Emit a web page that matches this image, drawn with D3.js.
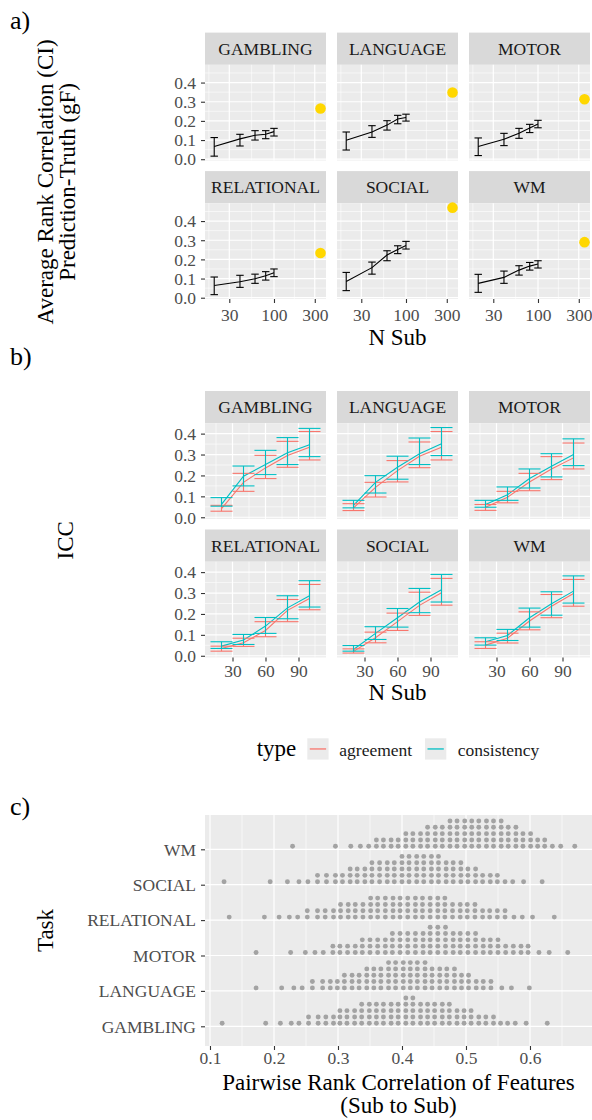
<!DOCTYPE html>
<html>
<head>
<meta charset="utf-8">
<script src="https://cdn.jsdelivr.net/npm/d3@7"></script>
<style>
  body { margin: 0; background: #fff; }
  svg { display: block; }
</style>
</head>
<body>
<svg id="fig" width="592" height="1120" font-family="Liberation Serif, DejaVu Serif, serif"></svg>
<script>
// ---------------- data ----------------
const tasks = ["GAMBLING", "LANGUAGE", "MOTOR", "RELATIONAL", "SOCIAL", "WM"];
const nSub = [20, 40, 60, 80, 100];
const nFull = 350;

// a) prediction-truth rank correlation (mean and CI) per task, by sample size
const predMean = [
  [0.066, 0.106, 0.125, 0.130, 0.144],
  [0.099, 0.142, 0.178, 0.210, 0.218],
  [0.066, 0.104, 0.135, 0.163, 0.184],
  [0.064, 0.083, 0.099, 0.115, 0.130],
  [0.085, 0.157, 0.223, 0.252, 0.273],
  [0.075, 0.106, 0.144, 0.165, 0.176]
];
const predLo = [
  [0.016, 0.069, 0.100, 0.107, 0.121],
  [0.048, 0.114, 0.152, 0.185, 0.199],
  [0.019, 0.071, 0.109, 0.139, 0.164],
  [0.016, 0.054, 0.075, 0.092, 0.110],
  [0.037, 0.123, 0.193, 0.230, 0.254],
  [0.028, 0.075, 0.118, 0.144, 0.155]
];
const predHi = [
  [0.113, 0.130, 0.149, 0.149, 0.161],
  [0.142, 0.175, 0.201, 0.229, 0.235],
  [0.111, 0.135, 0.161, 0.182, 0.203],
  [0.108, 0.117, 0.123, 0.136, 0.150],
  [0.132, 0.186, 0.245, 0.271, 0.294],
  [0.122, 0.139, 0.167, 0.184, 0.193]
];
const predFull = [0.265, 0.348, 0.313, 0.233, 0.470, 0.290];

// b) ICC by sample size, two ICC types
const iccTypes = ["agreement", "consistency"];
const agreeMean = [
  [0.041, 0.167, 0.236, 0.295, 0.335],
  [0.045, 0.143, 0.223, 0.292, 0.335],
  [0.048, 0.096, 0.169, 0.231, 0.284],
  [0.035, 0.062, 0.121, 0.217, 0.274],
  [0.021, 0.086, 0.163, 0.241, 0.301],
  [0.051, 0.084, 0.166, 0.237, 0.298]
];
const agreeLo = [
  [0.029, 0.124, 0.185, 0.239, 0.274],
  [0.032, 0.097, 0.169, 0.237, 0.274],
  [0.033, 0.069, 0.127, 0.180, 0.231],
  [0.022, 0.045, 0.091, 0.163, 0.220],
  [0.013, 0.062, 0.121, 0.193, 0.242],
  [0.035, 0.061, 0.124, 0.182, 0.237]
];
const agreeHi = [
  [0.057, 0.210, 0.296, 0.363, 0.410],
  [0.065, 0.167, 0.271, 0.360, 0.410],
  [0.061, 0.124, 0.210, 0.290, 0.355],
  [0.046, 0.084, 0.163, 0.269, 0.341],
  [0.033, 0.113, 0.204, 0.304, 0.370],
  [0.067, 0.108, 0.210, 0.293, 0.365]
];
const consMean = [
  [0.062, 0.196, 0.252, 0.308, 0.347],
  [0.057, 0.167, 0.239, 0.304, 0.351],
  [0.061, 0.108, 0.185, 0.244, 0.300],
  [0.046, 0.075, 0.142, 0.229, 0.287],
  [0.030, 0.107, 0.182, 0.257, 0.316],
  [0.067, 0.097, 0.182, 0.249, 0.309]
];
const consLo = [
  [0.053, 0.150, 0.204, 0.252, 0.290],
  [0.045, 0.116, 0.182, 0.252, 0.295],
  [0.048, 0.081, 0.140, 0.193, 0.247],
  [0.035, 0.054, 0.107, 0.177, 0.233],
  [0.022, 0.078, 0.137, 0.206, 0.257],
  [0.051, 0.073, 0.137, 0.194, 0.252]
];
const consHi = [
  [0.094, 0.245, 0.320, 0.381, 0.425],
  [0.081, 0.199, 0.292, 0.379, 0.429],
  [0.081, 0.145, 0.231, 0.304, 0.375],
  [0.067, 0.102, 0.183, 0.287, 0.359],
  [0.049, 0.139, 0.226, 0.322, 0.389],
  [0.086, 0.126, 0.228, 0.306, 0.382]
];

// c) pairwise rank correlation of features: dot stacks as [value, count]
const dotsGambling = [
  [0.119,1],[0.187,1],[0.210,1],[0.227,1],[0.239,1],[0.254,2],[0.269,2],[0.281,2],[0.293,2],
  [0.303,3],[0.314,3],[0.326,3],
  [0.337,4],[0.349,4],[0.360,4],[0.371,4],[0.383,4],[0.394,4],
  [0.406,5],[0.417,5],
  [0.429,4],[0.440,4],[0.451,4],[0.463,4],[0.474,4],
  [0.486,3],[0.497,3],[0.508,3],
  [0.520,2],[0.531,2],[0.543,2],
  [0.554,1],[0.565,1],[0.577,1],[0.594,1],[0.627,1]
];
const dotsLanguage = [
  [0.172,1],[0.212,1],[0.231,1],[0.244,1],[0.260,2],[0.276,2],[0.288,2],
  [0.299,2],
  [0.310,3],[0.322,3],[0.333,3],
  [0.345,4],[0.356,4],[0.367,4],
  [0.379,5],[0.390,5],[0.402,5],[0.413,5],[0.424,5],[0.436,5],
  [0.447,4],[0.459,4],[0.470,4],[0.482,4],
  [0.493,3],[0.504,3],
  [0.516,2],[0.527,2],[0.539,2],
  [0.556,1],[0.571,1],[0.599,1]
];
const dotsMotor = [
  [0.172,1],[0.226,1],[0.249,1],[0.264,1],[0.277,1],[0.292,2],
  [0.303,2],[0.315,2],[0.327,2],
  [0.338,3],[0.350,3],[0.362,3],[0.374,3],
  [0.385,4],[0.397,4],[0.409,4],[0.421,4],[0.433,4],
  [0.444,5],[0.456,5],[0.468,5],
  [0.480,4],[0.491,4],[0.503,4],[0.515,4],
  [0.527,3],[0.538,3],[0.550,3],
  [0.562,2],[0.574,2],[0.586,2],[0.597,2],
  [0.614,1],[0.630,1],[0.659,1]
];
const dotsRelational = [
  [0.130,1],[0.185,1],[0.208,1],[0.224,1],[0.237,1],[0.252,2],[0.268,2],[0.280,2],[0.293,2],
  [0.304,3],[0.316,3],[0.327,3],[0.339,3],
  [0.351,4],[0.362,4],[0.374,4],[0.386,4],[0.397,4],[0.409,4],[0.421,4],[0.432,4],[0.444,4],[0.456,4],[0.467,4],
  [0.479,3],[0.491,3],[0.502,3],[0.514,3],
  [0.526,2],[0.537,2],[0.549,2],[0.561,2],
  [0.575,1],[0.588,1],[0.604,1],[0.638,1]
];
const dotsSocial = [
  [0.122,1],[0.194,1],[0.221,1],[0.239,1],[0.253,1],[0.268,2],[0.282,2],
  [0.296,2],[0.307,2],
  [0.319,3],[0.330,3],[0.342,3],
  [0.353,4],[0.365,4],[0.377,4],[0.388,4],
  [0.400,5],[0.411,5],[0.423,5],[0.434,5],[0.446,5],[0.457,5],
  [0.469,4],[0.480,4],[0.492,4],
  [0.503,3],[0.515,3],
  [0.526,2],[0.538,2],[0.549,2],
  [0.561,1],[0.573,1],[0.590,1],[0.619,1]
];
const dotsWM = [
  [0.229,1],[0.296,1],[0.320,1],[0.335,1],[0.348,1],
  [0.360,2],[0.371,2],[0.383,2],[0.394,2],
  [0.406,3],[0.417,3],[0.429,3],
  [0.440,4],[0.452,4],[0.463,4],
  [0.475,5],[0.486,5],[0.498,5],[0.509,5],[0.520,5],[0.532,5],[0.543,5],[0.555,5],
  [0.566,4],[0.578,4],
  [0.589,3],[0.601,3],
  [0.612,2],[0.623,2],
  [0.635,1],[0.648,1],[0.670,1]
];
const dotsByTask = [dotsGambling, dotsLanguage, dotsMotor, dotsRelational, dotsSocial, dotsWM];

// tick values
const yTicksMajor = [0, 0.1, 0.2, 0.3, 0.4];
const yTicksMinor = [0.05, 0.15, 0.25, 0.35, 0.45];
const logTicks = [30, 100, 300];
const logMinor = [17.32, 54.77, 173.2, 547.7];
const linTicks = [30, 60, 90];
const linMinor = [15, 45, 75, 105];
const corTicks = [0.1, 0.2, 0.3, 0.4, 0.5, 0.6];
const corMinor = [0.15, 0.25, 0.35, 0.45, 0.55, 0.65];

// ---------------- style / layout ----------------
const FONT = "Liberation Serif, DejaVu Serif, serif";
const C = {
  panel: "#EBEBEB", strip: "#D9D9D9", grid: "#FFFFFF",
  tick: "#333333", tickText: "#4D4D4D", stripText: "#1A1A1A", title: "#000000",
  agreement: "#F8766D", consistency: "#00BFC4", full: "#FFD700", dot: "#A3A3A3"
};
const FS = 17.5, FT = 23;
const colX = [205, 337, 469], PW = 121, PH = 95.7, SH = 32.2;
const aStripTop = [32.6, 171.1], bStripTop = [391, 529.5];

const svg = d3.select("#fig");

function expand(lo, hi, f = 0.05) { const p = (hi - lo) * f; return [lo - p, hi + p]; }

function txt(g) { return g.append("text").attr("font-family", FONT); }

function drawStrip(g, x0, top, label) {
  g.append("rect").attr("x", x0).attr("y", top).attr("width", PW).attr("height", SH).attr("fill", C.strip);
  txt(g).attr("x", x0 + PW / 2).attr("y", top + 22.3)
    .attr("text-anchor", "middle").attr("font-size", FS).attr("fill", C.stripText).text(label);
}

function drawPanel(g, x, y, xMajor, xMinor, yMajor, yMinor) {
  const [x0, x1] = x.range(), [yb, yt] = y.range();
  g.append("rect").attr("x", x0).attr("y", yt).attr("width", x1 - x0).attr("height", yb - yt).attr("fill", C.panel);
  const xd = x.domain(), yd = y.domain();
  const inX = v => v >= Math.min(...xd) && v <= Math.max(...xd);
  const inY = v => v >= Math.min(...yd) && v <= Math.max(...yd);
  const grid = (vals, w, vertical) => {
    vals.filter(vertical ? inX : inY).forEach(v => {
      const l = g.append("line").attr("stroke", C.grid).attr("stroke-width", w);
      if (vertical) l.attr("x1", x(v)).attr("x2", x(v)).attr("y1", yt).attr("y2", yb);
      else l.attr("x1", x0).attr("x2", x1).attr("y1", y(v)).attr("y2", y(v));
    });
  };
  grid(yMinor, 0.6, false); grid(xMinor, 0.6, true);
  grid(yMajor, 1.2, false); grid(xMajor, 1.2, true);
}

function styleAxis(ax) {
  ax.attr("font-family", FONT).attr("font-size", FS);
  ax.select(".domain").remove();
  ax.selectAll(".tick line").attr("stroke", C.tick).attr("stroke-width", 1.1);
  ax.selectAll(".tick text").attr("fill", C.tickText).attr("font-family", FONT);
}

function leftAxis(g, y, x0, ticks, fmt) {
  const ax = g.append("g").attr("transform", `translate(${x0},0)`)
    .call(d3.axisLeft(y).tickValues(ticks).tickFormat(fmt).tickSize(4).tickPadding(5));
  styleAxis(ax);
  ax.selectAll(".tick text").attr("dy", "0.33em");
}

function bottomAxis(g, x, y0, ticks, fmt, base) {
  const ax = g.append("g").attr("transform", `translate(0,${y0})`)
    .call(d3.axisBottom(x).tickValues(ticks).tickFormat(fmt).tickSize(4).tickPadding(4));
  styleAxis(ax);
  ax.selectAll(".tick text").attr("y", base).attr("dy", null);
}

function rotTitle(g, x, y, label) {
  txt(g).attr("transform", `translate(${x},${y}) rotate(-90)`)
    .attr("text-anchor", "middle").attr("font-size", FT).attr("fill", C.title).text(label);
}
function hTitle(g, x, y, label, size = FT) {
  txt(g).attr("x", x).attr("y", y).attr("text-anchor", "middle")
    .attr("font-size", size).attr("fill", C.title).text(label);
}

const fmt1 = d3.format(".1f");
const plotCx = (colX[0] + colX[2] + PW) / 2;

// ---------------- a) ----------------
const gA = svg.append("g");
const capHalf = 0.0436; // errorbar half-width in log10 units
const aAll = predLo.flat().concat(predHi.flat(), predFull);
const aYDom = expand(d3.min(aAll), d3.max(aAll));
const aLogDom = expand(Math.log10(nSub[0]) - capHalf, Math.log10(nFull)).map(v => Math.pow(10, v));

tasks.forEach((task, t) => {
  const col = t % 3, row = Math.floor(t / 3);
  const x0 = colX[col], top = aStripTop[row] + SH;
  const x = d3.scaleLog().domain(aLogDom).range([x0, x0 + PW]);
  const y = d3.scaleLinear().domain(aYDom).range([top + PH, top]);
  drawStrip(gA, x0, aStripTop[row], task);
  drawPanel(gA, x, y, logTicks, logMinor, yTicksMajor, yTicksMinor);

  gA.append("path").datum(nSub)
    .attr("d", d3.line().x(n => x(n)).y((n, i) => y(predMean[t][i])))
    .attr("fill", "none").attr("stroke", "#000").attr("stroke-width", 1.1);
  const k = Math.pow(10, capHalf);
  nSub.forEach((n, i) => {
    const eb = gA.append("g").attr("stroke", "#000").attr("stroke-width", 1.1);
    eb.append("line").attr("x1", x(n)).attr("x2", x(n)).attr("y1", y(predLo[t][i])).attr("y2", y(predHi[t][i]));
    [predLo[t][i], predHi[t][i]].forEach(v =>
      eb.append("line").attr("x1", x(n / k)).attr("x2", x(n * k)).attr("y1", y(v)).attr("y2", y(v)));
  });
  gA.append("circle").attr("cx", x(nFull)).attr("cy", y(predFull[t])).attr("r", 5.3).attr("fill", C.full);

  if (col === 0) leftAxis(gA, y, x0, yTicksMajor, fmt1);
  if (row === 1) bottomAxis(gA, x, top + PH, logTicks, d3.format("d"), 22.4);
});
const aMid = (aStripTop[0] + SH + aStripTop[1] + SH + PH) / 2;
rotTitle(gA, 52.5, aMid, "Average Rank Correlation (CI)");
rotTitle(gA, 74.5, aMid, "Prediction-Truth (gF)");
hTitle(gA, plotCx, 345, "N Sub");

// ---------------- b) ----------------
const gB = svg.append("g");
const capW = 10; // errorbar half-width in N units
const bAll = [agreeLo, agreeHi, consLo, consHi].map(a => a.flat()).flat();
const bYDom = expand(d3.min(bAll), d3.max(bAll));
const bXDom = expand(nSub[0] - capW, nSub[nSub.length - 1] + capW);
const iccSeries = [
  { type: iccTypes[0], mean: agreeMean, lo: agreeLo, hi: agreeHi, color: C.agreement },
  { type: iccTypes[1], mean: consMean, lo: consLo, hi: consHi, color: C.consistency }
];

tasks.forEach((task, t) => {
  const col = t % 3, row = Math.floor(t / 3);
  const x0 = colX[col], top = bStripTop[row] + SH;
  const x = d3.scaleLinear().domain(bXDom).range([x0, x0 + PW]);
  const y = d3.scaleLinear().domain(bYDom).range([top + PH, top]);
  drawStrip(gB, x0, bStripTop[row], task);
  drawPanel(gB, x, y, linTicks, linMinor, yTicksMajor, yTicksMinor);

  iccSeries.forEach(s => {
    gB.append("path").datum(nSub)
      .attr("d", d3.line().x(n => x(n)).y((n, i) => y(s.mean[t][i])))
      .attr("fill", "none").attr("stroke", s.color).attr("stroke-width", 1.1);
  });
  iccSeries.forEach(s => {
    nSub.forEach((n, i) => {
      const eb = gB.append("g").attr("stroke", s.color).attr("stroke-width", 1.1);
      eb.append("line").attr("x1", x(n)).attr("x2", x(n)).attr("y1", y(s.lo[t][i])).attr("y2", y(s.hi[t][i]));
      [s.lo[t][i], s.hi[t][i]].forEach(v =>
        eb.append("line").attr("x1", x(n - capW)).attr("x2", x(n + capW)).attr("y1", y(v)).attr("y2", y(v)));
    });
  });

  if (col === 0) leftAxis(gB, y, x0, yTicksMajor, fmt1);
  if (row === 1) bottomAxis(gB, x, top + PH, linTicks, d3.format("d"), 19.7);
});
rotTitle(gB, 73, (bStripTop[0] + SH + bStripTop[1] + SH + PH) / 2, "ICC");
hTitle(gB, plotCx, 700, "N Sub");

// legend
const gL = svg.append("g");
txt(gL).attr("x", 256.7).attr("y", 755.7).attr("font-size", FT).attr("fill", C.title).text("type");
const keyX = [307.3, 425], labX = [339.3, 457.7], keyS = 21.3, keyTop = 738.3;
iccSeries.forEach((s, i) => {
  gL.append("rect").attr("x", keyX[i]).attr("y", keyTop).attr("width", keyS).attr("height", keyS).attr("fill", C.panel);
  gL.append("line").attr("x1", keyX[i] + 2.5).attr("x2", keyX[i] + keyS - 2.5)
    .attr("y1", keyTop + keyS / 2).attr("y2", keyTop + keyS / 2)
    .attr("stroke", s.color).attr("stroke-width", 1.3);
  txt(gL).attr("x", labX[i]).attr("y", 755.7).attr("font-size", FS).attr("fill", C.stripText).text(s.type);
});

// ---------------- c) ----------------
const gC = svg.append("g");
const cX = d3.scaleLinear().domain([0.0922, 0.6969]).range([205, 592]);
const cY = d3.scalePoint().domain(tasks).range([1026.3, 849.3]);
const cTop = 815, cBottom = 1046;
gC.append("rect").attr("x", 205).attr("y", cTop).attr("width", 592 - 205).attr("height", cBottom - cTop).attr("fill", C.panel);
corMinor.forEach(v => gC.append("line").attr("x1", cX(v)).attr("x2", cX(v)).attr("y1", cTop).attr("y2", cBottom)
  .attr("stroke", C.grid).attr("stroke-width", 0.6));
corTicks.forEach(v => gC.append("line").attr("x1", cX(v)).attr("x2", cX(v)).attr("y1", cTop).attr("y2", cBottom)
  .attr("stroke", C.grid).attr("stroke-width", 1.2));
tasks.forEach(tk => gC.append("line").attr("x1", 205).attr("x2", 592).attr("y1", cY(tk)).attr("y2", cY(tk))
  .attr("stroke", C.grid).attr("stroke-width", 1.2));

const stackStep = 6.33, stackBase = 3.0, dotR = 2.45;
tasks.forEach((tk, t) => {
  dotsByTask[t].forEach(([v, n]) => {
    d3.range(n).forEach(i => {
      gC.append("circle").attr("cx", cX(v)).attr("cy", cY(tk) - stackBase - i * stackStep)
        .attr("r", dotR).attr("fill", C.dot);
    });
  });
});

{
  const ax = gC.append("g").attr("transform", "translate(205,0)")
    .call(d3.axisLeft(cY).tickSize(4).tickPadding(5));
  styleAxis(ax);
  ax.selectAll(".tick text").attr("dy", "0.33em");
  bottomAxis(gC, cX, cBottom, corTicks, fmt1, 18);
}
rotTitle(gC, 52.5, (cTop + cBottom) / 2, "Task");
hTitle(gC, (205 + 592) / 2, 1090, "Pairwise Rank Correlation of Features");
hTitle(gC, (205 + 592) / 2, 1113, "(Sub to Sub)");

// panel tags
[["a)", 29], ["b)", 365], ["c)", 815]].forEach(([s, yb]) =>
  txt(svg).attr("x", 10).attr("y", yb).attr("font-size", 26).attr("fill", C.title).text(s));
</script>
</body>
</html>
